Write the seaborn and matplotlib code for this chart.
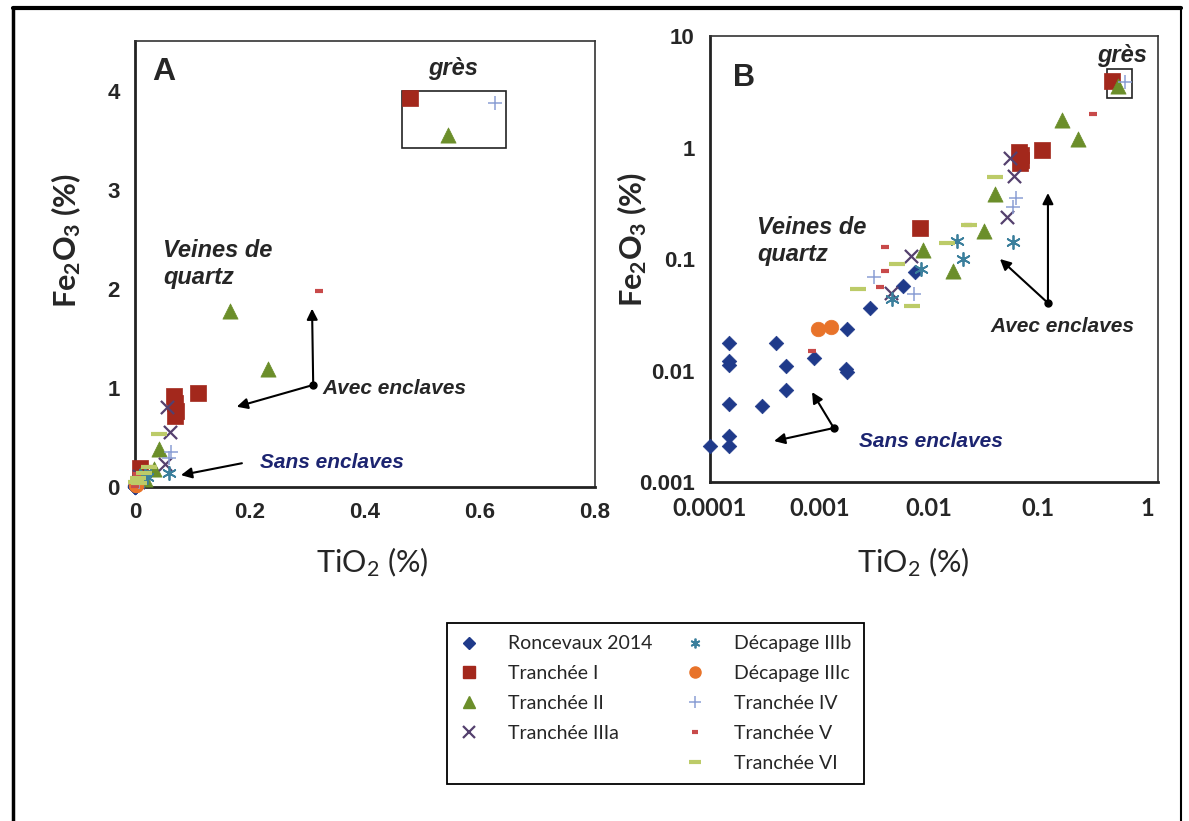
import matplotlib
matplotlib.use("Agg")
import matplotlib.pyplot as plt
from matplotlib.lines import Line2D
from matplotlib.ticker import MultipleLocator, FixedLocator, NullLocator
import pandas as pd
import seaborn as sns

# ---------------------------------------------------------------
# TiO2 / Fe2O3 contents (%) of quartz veins and sandstone samples
# ---------------------------------------------------------------
roncevaux_ti = [1.0e-4, 1.5e-4, 1.5e-4, 1.5e-4, 1.5e-4, 1.5e-4, 1.5e-4, 3.0e-4, 4.0e-4,
                5.0e-4, 5.0e-4, 9.0e-4, 1.75e-3, 1.8e-3, 1.8e-3, 2.9e-3, 5.8e-3, 7.5e-3]
roncevaux_fe = [0.0021, 0.0026, 0.0021, 0.0050, 0.0121, 0.0113, 0.0176, 0.0048, 0.0176,
                0.0067, 0.0109, 0.0130, 0.0103, 0.0097, 0.0236, 0.0364, 0.0577, 0.076]

tr1_ti = [0.0083, 0.068, 0.070, 0.071, 0.069, 0.109, 0.478]
tr1_fe = [0.188, 0.92, 0.85, 0.77, 0.72, 0.95, 3.93]

tr2_ti = [0.0090, 0.0168, 0.0325, 0.041, 0.165, 0.232, 0.545]
tr2_fe = [0.12, 0.078, 0.18, 0.385, 1.78, 1.19, 3.55]

tr3a_ti = [0.0045, 0.0069, 0.052, 0.061, 0.056]
tr3a_fe = [0.050, 0.107, 0.236, 0.557, 0.81]

dec3b_ti = [0.0046, 0.0085, 0.0182, 0.0207, 0.060]
dec3b_fe = [0.044, 0.081, 0.144, 0.100, 0.141]

dec3c_ti = [0.00098, 0.00129]
dec3c_fe = [0.0236, 0.0248]

tr4_ti = [0.00315, 0.0073, 0.060, 0.063, 0.627]
tr4_fe = [0.0695, 0.0486, 0.29, 0.356, 3.87]

tr5_ti = [0.00085, 0.0036, 0.0040, 0.0040, 0.0230, 0.32]
tr5_fe = [0.0151, 0.0557, 0.0776, 0.127, 0.20, 1.98]

tr6_ti = [0.00225, 0.0052, 0.0071, 0.0149, 0.0237, 0.041]
tr6_fe = [0.0538, 0.090, 0.0377, 0.138, 0.20, 0.54]

series_names = ["Roncevaux 2014", "Tranchée I", "Tranchée II", "Tranchée IIIa",
                "Décapage IIIb", "Décapage IIIc", "Tranchée IV", "Tranchée V", "Tranchée VI"]
series_ti = [roncevaux_ti, tr1_ti, tr2_ti, tr3a_ti, dec3b_ti, dec3c_ti, tr4_ti, tr5_ti, tr6_ti]
series_fe = [roncevaux_fe, tr1_fe, tr2_fe, tr3a_fe, dec3b_fe, dec3c_fe, tr4_fe, tr5_fe, tr6_fe]

a_xticks = [0, 0.2, 0.4, 0.6, 0.8]
a_xticklabels = ["0", "0.2", "0.4", "0.6", "0.8"]
a_yticks = [0, 1, 2, 3, 4]
a_yticklabels = ["0", "1", "2", "3", "4"]
b_xticks = [1e-4, 1e-3, 1e-2, 1e-1, 1]
b_xticklabels = ["0.0001", "0.001", "0.01", "0.1", "1"]
b_yticks = [1e-3, 1e-2, 1e-1, 1, 10]
b_yticklabels = ["0.001", "0.01", "0.1", "1", "10"]

df = pd.concat(
    [pd.DataFrame({"serie": n, "TiO2": t, "Fe2O3": f})
     for n, t, f in zip(series_names, series_ti, series_fe)],
    ignore_index=True,
)

# marker styling for each series (s: plot marker area, ms: legend marker size)
styles = {
    "Roncevaux 2014": dict(marker="D", color="#1f3a8a", s=55, lw=0.5, ms=6),
    "Tranchée I":     dict(marker="s", color="#a3281c", s=120, lw=0.5, ms=8),
    "Tranchée II":    dict(marker="^", color="#6b8e2a", s=120, lw=0.5, ms=8),
    "Tranchée IIIa":  dict(marker="x", color="#54406e", s=90, lw=1.6, ms=8),
    "Décapage IIIb":  dict(marker=(6, 2, 0), color="#3b7f9c", s=90, lw=1.3, ms=7),
    "Décapage IIIc":  dict(marker="o", color="#e8732a", s=110, lw=0.5, ms=8),
    "Tranchée IV":    dict(marker="+", color="#8b9fd4", s=100, lw=1.1, ms=8),
    "Tranchée V":     dict(marker="_", color="#c84a4a", s=30, lw=3.0, ms=5),
    "Tranchée VI":    dict(marker="_", color="#bccb68", s=130, lw=3.0, ms=8),
}

sns.set_style("white")
plt.rcParams["font.family"] = ["Liberation Sans", "DejaVu Sans"]
plt.rcParams["mathtext.fontset"] = "custom"
plt.rcParams["mathtext.rm"] = "Lato"
plt.rcParams["mathtext.bf"] = "Lato:bold"
plt.rcParams["mathtext.it"] = "Lato:italic"

fig = plt.figure(figsize=(11.89, 8.21), dpi=100)
fig.patch.set_facecolor("white")
axA = fig.add_axes([0.1135, 0.4068, 0.3869, 0.5432])
axB = fig.add_axes([0.5971, 0.4129, 0.3768, 0.5432])


def draw_points(ax):
    for name in series_names:
        st = styles[name]
        sub = df[df["serie"] == name]
        kws = dict(marker=st["marker"], s=st["s"], linewidth=st["lw"], color=st["color"],
                   legend=False, clip_on=False, zorder=4)
        if st["marker"] in ("D", "s", "^", "o"):
            kws["edgecolor"] = st["color"]
        sns.scatterplot(data=sub, x="TiO2", y="Fe2O3", ax=ax, **kws)


draw_points(axA)
draw_points(axB)

tick_font = dict(family="Liberation Sans", weight="bold", size=16)
title_kw = dict(family="Lato", size=22)
ylabel_text = r"Fe$_\mathbf{2}$O$_\mathbf{3}$ (%)"

# ---------------- panel A (linear) ----------------
axA.set_xlim(0, 0.8)
axA.set_ylim(0, 4.5)
axA.xaxis.set_major_locator(FixedLocator(a_xticks))
axA.set_xticklabels(a_xticklabels, **tick_font)
axA.yaxis.set_major_locator(FixedLocator(a_yticks))
axA.set_yticklabels(a_yticklabels, **tick_font)
axA.yaxis.set_minor_locator(MultipleLocator(0.5))
axA.tick_params(axis="both", which="both", direction="out", length=5, width=1,
                color="#555555", pad=6)
axA.set_xlabel("TiO$_2$ (%)", **title_kw)
axA.xaxis.set_label_coords(0.515, -0.13)
axA.set_ylabel(ylabel_text, weight="bold", **title_kw)
axA.yaxis.set_label_coords(-0.112, 0.554)

# ---------------- panel B (log-log) ----------------
axB.set_xscale("log")
axB.set_yscale("log")
axB.set_xlim(1e-4, 1.26)
axB.set_ylim(1e-3, 10)
axB.xaxis.set_major_locator(FixedLocator(b_xticks))
axB.set_xticklabels(b_xticklabels, family="Lato", weight="bold", size=17)
axB.yaxis.set_major_locator(FixedLocator(b_yticks))
axB.set_yticklabels(b_yticklabels, **tick_font)
axB.xaxis.set_minor_locator(NullLocator())
axB.yaxis.set_minor_locator(NullLocator())
axB.tick_params(axis="both", which="both", direction="out", length=5, width=1,
                color="#555555", pad=6)
axB.set_xlabel("TiO$_2$ (%)", **title_kw)
axB.xaxis.set_label_coords(0.453, -0.142)
axB.set_ylabel(ylabel_text, weight="bold", **title_kw)
axB.yaxis.set_label_coords(-0.135, 0.543)

for ax in (axA, axB):
    for side in ("left", "bottom"):
        ax.spines[side].set_linewidth(2.0)
        ax.spines[side].set_color("#222222")
    for side in ("top", "right"):
        ax.spines[side].set_linewidth(1.2)
        ax.spines[side].set_color("#333333")
    ax.set_facecolor("white")
    ax.grid(False)

note = dict(family="Liberation Sans", weight="bold", style="italic")
arrow = dict(arrowstyle="-|>", color="black", lw=1.5, mutation_scale=16,
             shrinkA=0, shrinkB=0)

# panel A labels and arrows
axA.text(0.037, 0.93, "A", transform=axA.transAxes, ha="left", va="center",
         family="Liberation Sans", weight="bold", size=23)
axA.text(0.691, 0.939, "grès", transform=axA.transAxes, ha="center", va="center",
         size=17, **note)
axA.add_patch(plt.Rectangle((0.464, 3.42), 0.181, 0.58, fill=False, lw=1.2,
                            edgecolor="#222222", zorder=3))
axA.text(0.061, 0.50, "Veines de\nquartz", transform=axA.transAxes, ha="left",
         va="center", size=17, linespacing=1.2, **note)
axA.text(0.407, 0.222, "Avec enclaves", transform=axA.transAxes, ha="left",
         va="center", size=15, **note)
axA.text(0.272, 0.056, "Sans enclaves", transform=axA.transAxes, ha="left",
         va="center", size=15, color="#1c2470", **note)
a_dot = (0.31, 1.03)
axA.plot(*a_dot, marker="o", ms=5, color="black", zorder=5)
axA.annotate("", xy=(0.308, 1.80), xytext=a_dot, arrowprops=arrow)
axA.annotate("", xy=(0.177, 0.81), xytext=a_dot, arrowprops=arrow)
axA.annotate("", xy=(0.08, 0.12), xytext=(0.186, 0.24), arrowprops=arrow)

# panel B labels and arrows
axB.text(0.051, 0.906, "B", transform=axB.transAxes, ha="left", va="center",
         family="Liberation Sans", weight="bold", size=22)
axB.text(0.92, 0.957, "grès", transform=axB.transAxes, ha="center", va="center",
         size=17, **note)
axB.add_patch(plt.Rectangle((0.43, 2.78), 0.30, 2.28, fill=False, lw=1.2,
                            edgecolor="#222222", zorder=3))
axB.text(0.105, 0.54, "Veines de\nquartz", transform=axB.transAxes, ha="left",
         va="center", size=17, linespacing=1.2, **note)
axB.text(0.786, 0.348, "Avec enclaves", transform=axB.transAxes, ha="center",
         va="center", size=15, **note)
axB.text(0.333, 0.09, "Sans enclaves", transform=axB.transAxes, ha="left",
         va="center", size=15, color="#1c2470", **note)
b_dot_avec = (0.124, 0.0403)
axB.plot(*b_dot_avec, marker="o", ms=5, color="black", zorder=5)
axB.annotate("", xy=(0.0451, 0.1), xytext=b_dot_avec, arrowprops=arrow)
axB.annotate("", xy=(0.124, 0.391), xytext=b_dot_avec, arrowprops=arrow)
b_dot_sans = (1.36e-3, 0.00305)
axB.plot(*b_dot_sans, marker="o", ms=5, color="black", zorder=5)
axB.annotate("", xy=(3.86e-4, 0.00233), xytext=b_dot_sans, arrowprops=arrow)
axB.annotate("", xy=(8.6e-4, 0.0064), xytext=b_dot_sans, arrowprops=arrow)

# shared legend, two columns (left column has one empty slot at the bottom)
def handle(name):
    st = styles[name]
    return Line2D([], [], linestyle="none", marker=st["marker"], color=st["color"],
                  markersize=st["ms"], markeredgewidth=max(st["lw"], 1.0))

left_col = series_names[:4]
right_col = series_names[4:]
handles = [handle(n) for n in left_col] + [Line2D([], [], linestyle="none")] + \
          [handle(n) for n in right_col]
labels = left_col + [""] + right_col
leg = fig.legend(handles, labels, loc="upper left",
                 bbox_to_anchor=(437 / 1189, 1 - 613 / 821), ncol=2,
                 frameon=True, fancybox=False, edgecolor="black", framealpha=1,
                 prop=dict(family="Lato", size=14), handlelength=1.0,
                 handletextpad=1.5, columnspacing=1.7, labelspacing=0.66,
                 borderpad=0.65)
leg.get_frame().set_linewidth(1.3)

# outer frame
fig.add_artist(Line2D([13 / 1189, 1181 / 1189], [1 - 8 / 821, 1 - 8 / 821],
                      transform=fig.transFigure, color="black", lw=3))
fig.add_artist(Line2D([13 / 1189, 13 / 1189], [0, 1 - 8 / 821],
                      transform=fig.transFigure, color="black", lw=2.5))
fig.add_artist(Line2D([1181 / 1189, 1181 / 1189], [0, 1 - 8 / 821],
                      transform=fig.transFigure, color="black", lw=1.5))

fig.savefig("out.png", dpi=100, facecolor="white")
